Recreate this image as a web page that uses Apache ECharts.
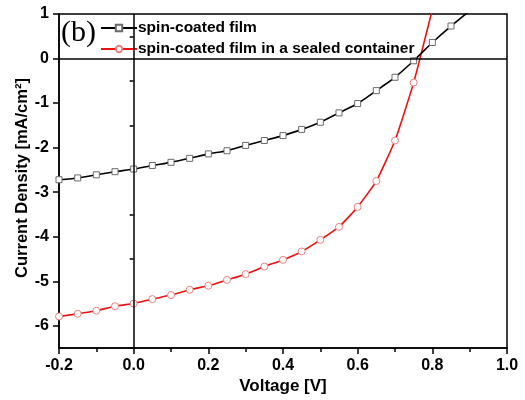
<!DOCTYPE html>
<html>
<head>
<meta charset="utf-8">
<script src="https://cdn.jsdelivr.net/npm/echarts@6/dist/echarts.min.js"></script>
<style>html,body{margin:0;padding:0;background:#fff}#c{width:525px;height:400px}</style>
</head>
<body>
<div id="c"></div>
<script>
var voltage = [-0.2,-0.15,-0.1,-0.05,0,0.05,0.1,0.15,0.2,0.25,0.3,0.35,0.4,0.45,0.5,0.55,0.6,0.65,0.7,0.75,0.8,0.85,0.9];
var spinCoated = [-2.72,-2.68,-2.61,-2.54,-2.48,-2.40,-2.33,-2.24,-2.14,-2.07,-1.95,-1.84,-1.73,-1.59,-1.43,-1.22,-1.01,-0.72,-0.42,-0.05,0.36,0.73,1.07];
var sealed = [-5.79,-5.73,-5.66,-5.56,-5.50,-5.40,-5.31,-5.19,-5.10,-4.97,-4.84,-4.67,-4.52,-4.33,-4.07,-3.78,-3.33,-2.75,-1.84,-0.54,1.1];
var seriesNames = ['spin-coated film', 'spin-coated film in a sealed container'];
var yMajorTicks = [1,0,-1,-2,-3,-4,-5,-6];
var yMinorTicks = [0.5,-0.5,-1.5,-2.5,-3.5,-4.5,-5.5,-6.5];
var panelLabel = '(b)';
var xTitle = 'Voltage [V]';
var yTitle = 'Current Density [mA/cm\u00B2]';

function pairs(xs, ys){ return ys.map(function(y,i){ return [xs[i], y]; }); }

var chart = echarts.init(document.getElementById('c'), null, {renderer:'canvas'});
var font = 'Liberation Sans, Arial, sans-serif';
chart.setOption({
  animation: false,
  backgroundColor: '#fff',
  grid: {left: 59, right: 18, top: 14, bottom: 51, show: true, borderColor: '#000', borderWidth: 1.5, backgroundColor: 'transparent'},
  legend: {
    orient: 'vertical', left: 95, top: 15, itemWidth: 36, itemHeight: 8, itemGap: 5,
    textStyle: {fontFamily: font, fontWeight: 'bold', fontSize: 15.5, color: '#000', padding: [0,0,0,-4]},
    data: seriesNames
  },
  graphic: [
    {type: 'text', left: 61, top: 18, style: {text: panelLabel, font: '30px "Liberation Serif", "Times New Roman", serif', fill: '#000'}},
    {type: 'text', x: 22, y: 178, rotation: Math.PI/2, style: {text: yTitle, font: 'bold 16.5px ' + font, fill: '#000', align: 'center', verticalAlign: 'middle'}}
  ],
  xAxis: {
    type: 'value', min: -0.2, max: 1.0, interval: 0.2,
    axisLine: {onZero: false, lineStyle: {color: '#000', width: 1.5}},
    axisTick: {length: 6, lineStyle: {color: '#000', width: 1.5}},
    minorTick: {show: true, splitNumber: 2, length: 4, lineStyle: {color: '#000', width: 1.5}},
    splitLine: {show: false},
    axisLabel: {margin: 9, fontFamily: font, fontWeight: 'bold', fontSize: 16, color: '#000', formatter: function(v){ return v.toFixed(1); }},
    name: xTitle, nameLocation: 'middle', nameGap: 27,
    nameTextStyle: {fontFamily: font, fontWeight: 'bold', fontSize: 17, color: '#000'}
  },
  yAxis: [{
    type: 'value', min: -6.5, max: 1,
    axisLine: {onZero: false, lineStyle: {color: '#000', width: 1.5}},
    axisTick: {length: 6, customValues: yMajorTicks, lineStyle: {color: '#000', width: 1.5}},
    splitLine: {show: false},
    axisLabel: {margin: 10, customValues: yMajorTicks, fontFamily: font, fontWeight: 'bold', fontSize: 16, color: '#000', formatter: function(v){ return String(v); }}
  }, {
    type: 'value', min: -6.5, max: 1, position: 'left',
    axisLine: {show: false},
    axisTick: {length: 4, customValues: yMinorTicks, lineStyle: {color: '#000', width: 1.5}},
    splitLine: {show: false},
    axisLabel: {show: false}
  }],
  series: [{
    name: seriesNames[0], type: 'line', data: pairs(voltage, spinCoated), clip: true,
    smooth: 0.15, symbol: 'rect', symbolSize: 6, showAllSymbol: true,
    lineStyle: {color: '#000', width: 1.6},
    itemStyle: {color: '#fff', borderColor: '#6a6a6a', borderWidth: 1},
    markLine: {silent: true, symbol: 'none', animation: false, label: {show: false},
      lineStyle: {color: '#000', type: 'solid', width: 1.5},
      data: [{xAxis: 0}, {yAxis: 0}]},
    z: 3
  }, {
    name: seriesNames[1], type: 'line', data: pairs(voltage, sealed), clip: true,
    smooth: 0.15, symbol: 'circle', symbolSize: 7, showAllSymbol: true,
    lineStyle: {color: '#ee1111', width: 1.6},
    itemStyle: {color: '#fff', borderColor: '#f08080', borderWidth: 1},
    z: 2
  }]
});
</script>
</body>
</html>
